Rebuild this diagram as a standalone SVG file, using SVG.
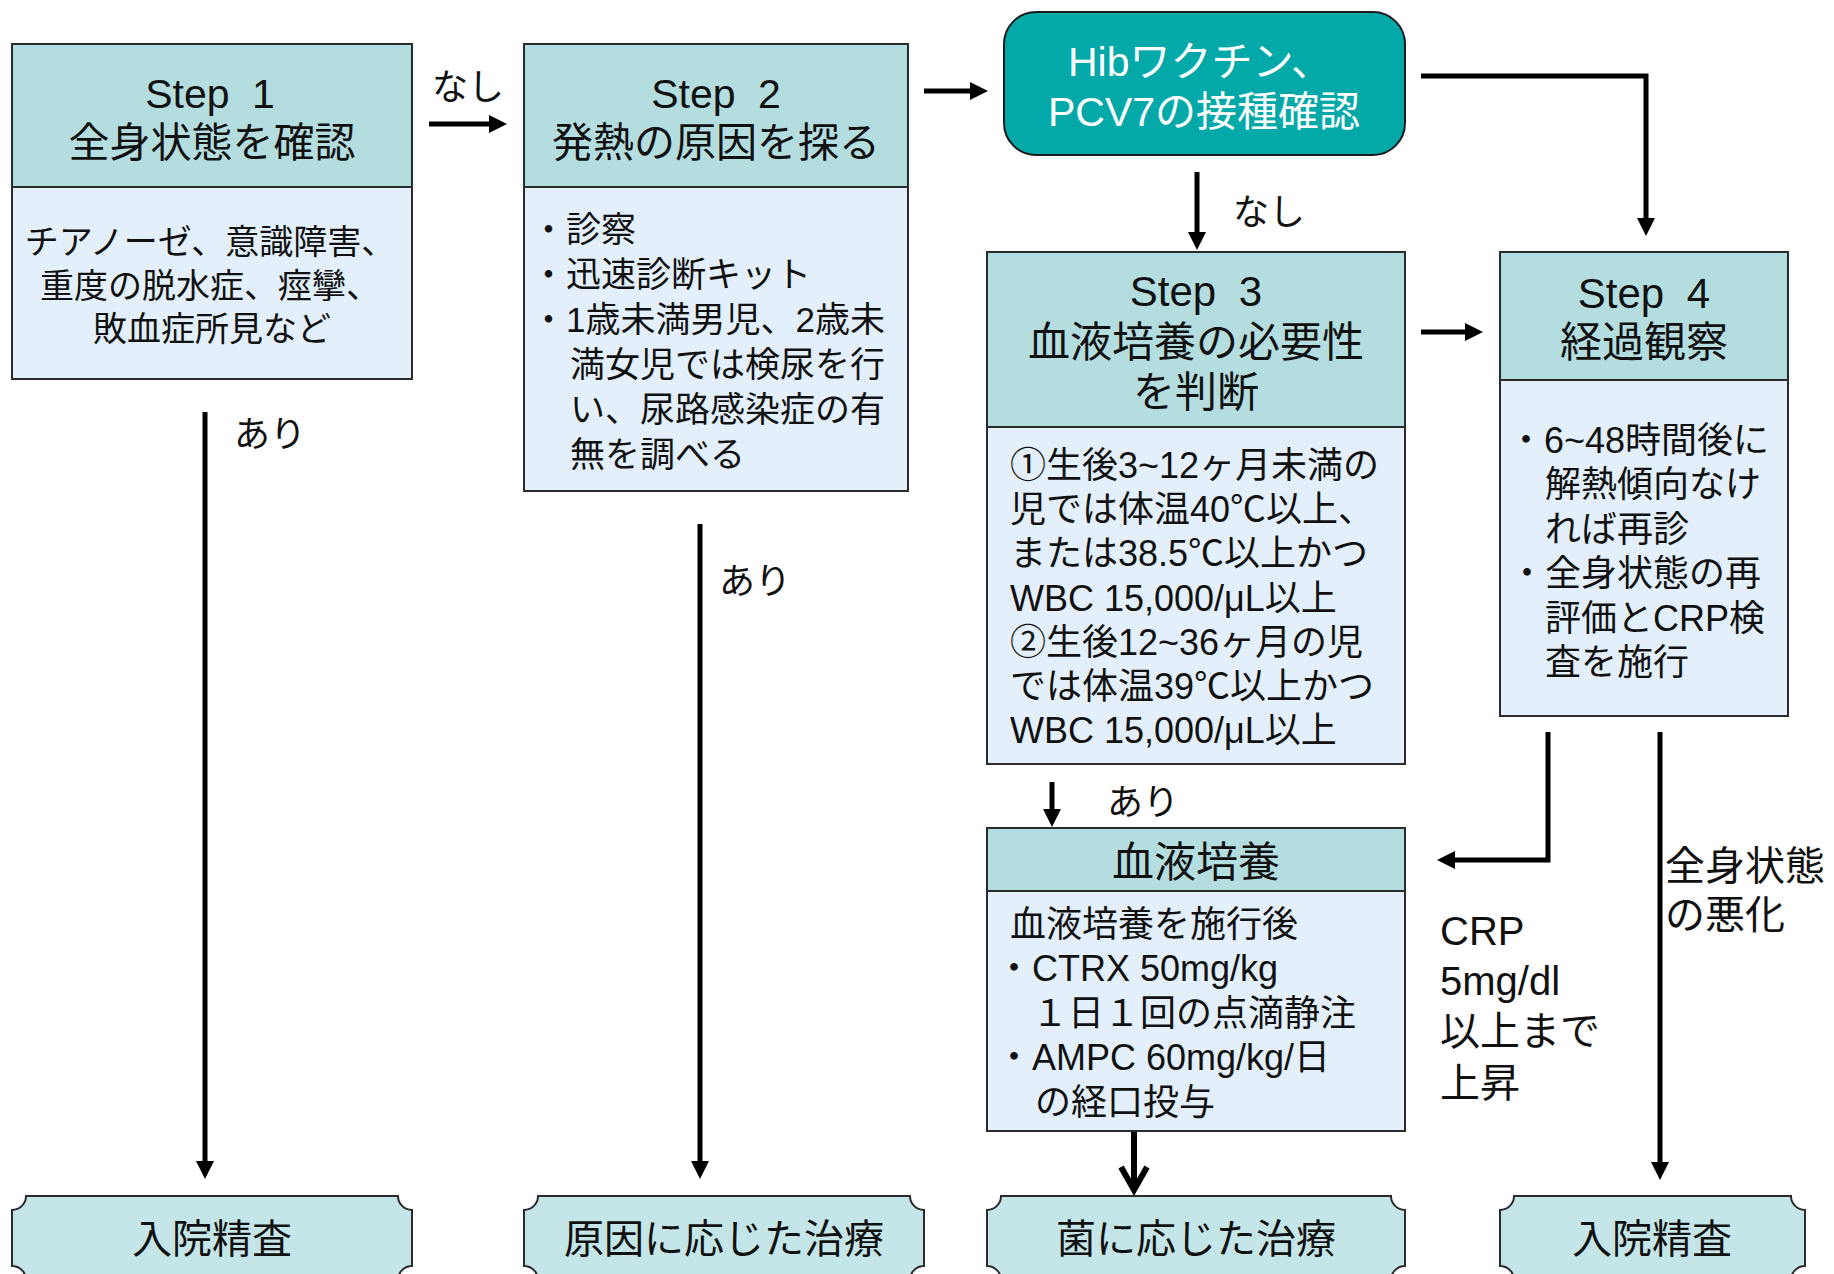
<svg xmlns="http://www.w3.org/2000/svg" width="1834" height="1274" viewBox="0 0 1834 1274">
<style>
text{font-family:"Liberation Sans","Noto Sans CJK JP",sans-serif;fill:#111}
.hd{fill:#B4DDE0;stroke:#2b2b2b;stroke-width:2}
.ct{fill:#E3F0FC;stroke:#2b2b2b;stroke-width:2}
.pl{fill:#C5E6E8;stroke:#2b2b2b;stroke-width:2}
.h{font-size:41px;text-anchor:middle}
.h2{font-size:42px;text-anchor:middle}
.c{font-size:36px}
.c35{font-size:35px}
.c34{font-size:34px;text-anchor:middle}
.lb{font-size:36px}
.lb40{font-size:40px}
.bt{font-size:40px;text-anchor:middle}
.w{font-size:41px;text-anchor:middle;fill:#fff}
.ln{fill:none;stroke:#000;stroke-width:5}
</style>
<defs>
<marker id="ah" markerUnits="userSpaceOnUse" markerWidth="18" markerHeight="18" refX="8" refY="9" orient="auto"><path d="M0,0 L18,9 L0,18 z" fill="#000"/></marker>
</defs>
<rect width="1834" height="1274" fill="#fff"/>

<g id="step1">
<rect class="hd" x="12" y="44" width="400" height="143"/>
<rect class="ct" x="12" y="187" width="400" height="192"/>
<text class="h" x="210" y="108">Step <tspan dx="11">1</tspan></text>
<text class="h" x="212" y="157">全身状態を確認</text>
<text class="c34" x="210" y="254">チアノーゼ、意識障害、</text>
<text class="c34" x="210" y="298">重度の脱水症、痙攣、</text>
<text class="c34" x="212" y="341">敗血症所見など</text>
</g>

<g id="step2">
<rect class="hd" x="524" y="44" width="384" height="143"/>
<rect class="ct" x="524" y="187" width="384" height="304"/>
<text class="h" x="716" y="108">Step <tspan dx="11">2</tspan></text>
<text class="h" x="716" y="157">発熱の原因を探る</text>
<text class="c35" x="531" y="242">・診察</text>
<text class="c35" x="531" y="287">・迅速診断キット</text>
<text class="c35" x="531" y="332">・1歳未満男児、2歳未</text>
<text class="c35" x="570" y="377">満女児では検尿を行</text>
<text class="c35" x="570" y="422">い、尿路感染症の有</text>
<text class="c35" x="570" y="467">無を調べる</text>
</g>

<g id="hib">
<rect x="1004" y="12" width="401" height="143" rx="32" fill="#03A9A9" stroke="#1a1a1a" stroke-width="2"/>
<text class="w" x="1200" y="76">Hibワクチン、</text>
<text class="w" x="1204" y="126">PCV7の接種確認</text>
</g>

<g id="step3">
<rect class="hd" x="987" y="252" width="418" height="175"/>
<rect class="ct" x="987" y="427" width="418" height="337"/>
<text class="h2" x="1196" y="306">Step <tspan dx="11">3</tspan></text>
<text class="h2" x="1196" y="357">血液培養の必要性</text>
<text class="h2" x="1196" y="407">を判断</text>
<text class="c" x="1010" y="478">①生後3~12ヶ月未満の</text>
<text class="c" x="1010" y="522">児では体温40℃以上、</text>
<text class="c" x="1010" y="566">または38.5℃以上かつ</text>
<text class="c" x="1010" y="611">WBC 15,000/μL以上</text>
<text class="c" x="1010" y="655">②生後12~36ヶ月の児</text>
<text class="c" x="1010" y="699">では体温39℃以上かつ</text>
<text class="c" x="1010" y="743">WBC 15,000/μL以上</text>
</g>

<g id="step4">
<rect class="hd" x="1500" y="252" width="288" height="128"/>
<rect class="ct" x="1500" y="380" width="288" height="336"/>
<text class="h2" x="1644" y="308">Step <tspan dx="11">4</tspan></text>
<text class="h2" x="1644" y="357">経過観察</text>
<text class="c" x="1508" y="453">・6~48時間後に</text>
<text class="c" x="1545" y="497">解熱傾向なけ</text>
<text class="c" x="1545" y="542">れば再診</text>
<text class="c" x="1509" y="586">・全身状態の再</text>
<text class="c" x="1545" y="631">評価とCRP検</text>
<text class="c" x="1545" y="675">査を施行</text>
</g>

<g id="culture">
<rect class="hd" x="987" y="828" width="418" height="63"/>
<rect class="ct" x="987" y="891" width="418" height="240"/>
<text class="h2" x="1196" y="877">血液培養</text>
<text class="c" x="1010" y="937">血液培養を施行後</text>
<text class="c" x="996" y="981">・CTRX 50mg/kg</text>
<text class="c" x="1032" y="1026">１日１回の点滴静注</text>
<text class="c" x="996" y="1070">・AMPC 60mg/kg/日</text>
<text class="c" x="1035" y="1115">の経口投与</text>
</g>

<g id="out1">
<path class="pl" d="M26,1196 H398 A14,14 0 0 0 412,1210 V1266 A14,14 0 0 0 398,1280 H26 A14,14 0 0 0 12,1266 V1210 A14,14 0 0 0 26,1196 Z"/>
<text class="bt" x="212" y="1253">入院精査</text>
</g>
<g id="out2">
<path class="pl" d="M538,1196 H910 A14,14 0 0 0 924,1210 V1266 A14,14 0 0 0 910,1280 H538 A14,14 0 0 0 524,1266 V1210 A14,14 0 0 0 538,1196 Z"/>
<text class="bt" x="724" y="1253">原因に応じた治療</text>
</g>
<g id="out3">
<path class="pl" d="M1001,1196 H1391 A14,14 0 0 0 1405,1210 V1266 A14,14 0 0 0 1391,1280 H1001 A14,14 0 0 0 987,1266 V1210 A14,14 0 0 0 1001,1196 Z"/>
<text class="bt" x="1196" y="1253">菌に応じた治療</text>
</g>
<g id="out4">
<path class="pl" d="M1514,1196 H1791 A14,14 0 0 0 1805,1210 V1266 A14,14 0 0 0 1791,1280 H1514 A14,14 0 0 0 1500,1266 V1210 A14,14 0 0 0 1514,1196 Z"/>
<text class="bt" x="1652" y="1253">入院精査</text>
</g>

<g id="connectors">
<line class="ln" x1="429" y1="124" x2="497" y2="124" marker-end="url(#ah)"/>
<line class="ln" x1="924" y1="91" x2="978" y2="91" marker-end="url(#ah)"/>
<line class="ln" x1="1197" y1="172" x2="1197" y2="240" marker-end="url(#ah)"/>
<path class="ln" d="M1421,76 H1646 V226" marker-end="url(#ah)"/>
<line class="ln" x1="1421" y1="332" x2="1473" y2="332" marker-end="url(#ah)"/>
<line class="ln" x1="1052" y1="782" x2="1052" y2="817" marker-end="url(#ah)"/>
<line class="ln" x1="205" y1="412" x2="205" y2="1169" marker-end="url(#ah)"/>
<line class="ln" x1="700" y1="524" x2="700" y2="1169" marker-end="url(#ah)"/>
<line class="ln" x1="1134" y1="1132" x2="1134" y2="1189" style="stroke-width:6"/>
<polyline class="ln" points="1121,1167 1134,1190 1147,1167" style="stroke-width:6"/>
<path class="ln" d="M1548,732 V860 H1447" marker-end="url(#ah)"/>
<line class="ln" x1="1660" y1="732" x2="1660" y2="1170" marker-end="url(#ah)"/>
<text class="lb" x="432" y="100">なし</text>
<text class="lb" x="1233" y="225">なし</text>
<text class="lb" x="234" y="447">あり</text>
<text class="lb" x="719" y="594">あり</text>
<text class="lb" x="1107" y="815">あり</text>
<text class="lb40" x="1665" y="880">全身状態</text>
<text class="lb40" x="1665" y="929">の悪化</text>
<text class="lb40" x="1440" y="945">CRP</text>
<text class="lb40" x="1440" y="995">5mg/dl</text>
<text class="lb40" x="1440" y="1045">以上まで</text>
<text class="lb40" x="1440" y="1097">上昇</text>
</g>
</svg>
